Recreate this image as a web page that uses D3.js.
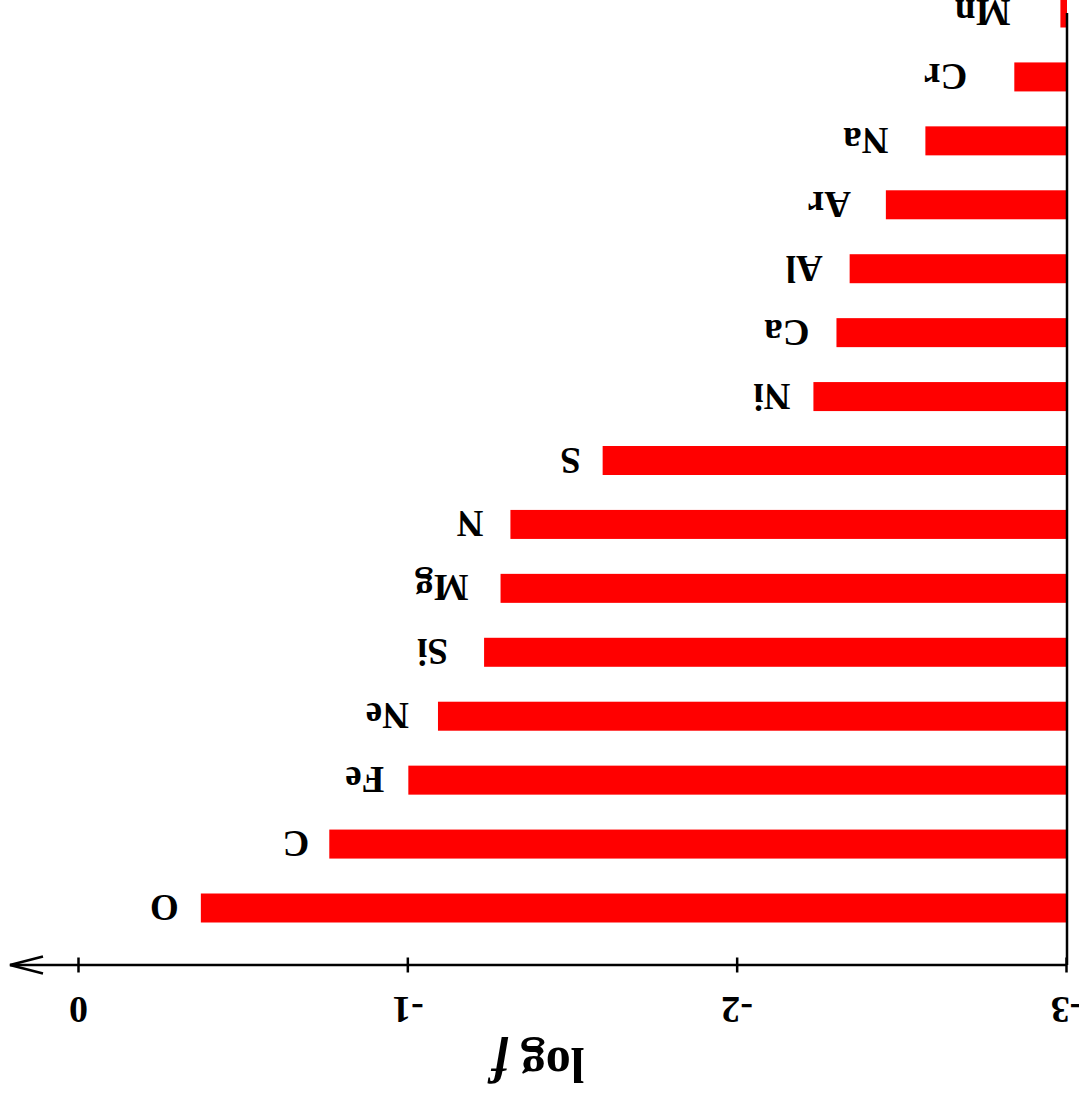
<!DOCTYPE html>
<html>
<head>
<meta charset="utf-8">
<script src="https://cdn.jsdelivr.net/npm/d3@7"></script>
<style>
  html, body { margin: 0; padding: 0; background: #fff; }
  svg { display: block; }
  text { font-family: "Liberation Serif", "Times New Roman", serif; font-weight: bold; fill: #000; }
</style>
</head>
<body>
<script>
// Element abundances, log f
const elements = ["O", "C", "Fe", "Ne", "Si", "Mg", "N", "S", "Ni", "Ca", "Al", "Ar", "Na", "Cr", "Mn"];
const logF     = [-0.37, -0.76, -1.00, -1.09, -1.23, -1.28, -1.31, -1.59, -2.23, -2.30, -2.34, -2.45, -2.57, -2.84, -2.98];
const tickValues = [0, -1, -2, -3];
const tickLabels = ["0", "-1", "-2", "-3"];

const W = 1079, H = 1104;
const axisY = 139;

// space between a bar's end and its element label
const labelGap = { O: 22, C: 20, Fe: 24, Ne: 29, Si: 36, Mg: 32, N: 27, S: 22,
                   Ni: 23, Ca: 27, Al: 27, Ar: 35, Na: 37, Cr: 47, Mn: 50 };

const svg = d3.select("body").append("svg")
  .attr("width", W).attr("height", H);

// the whole figure is drawn turned half a revolution
const g = svg.append("g")
  .attr("transform", `rotate(180, ${W / 2}, ${H / 2})`);

const x = d3.scaleLinear().domain([-3, 0]).range([12, 1000]);
const y = d3.scalePoint().domain(elements).range([196, 1091]);
const barH = 29;

const rows = elements.map((e, i) => ({ e, v: logF[i] }));

// bars
g.selectAll("rect.bar")
  .data(rows)
  .join("rect")
  .attr("class", "bar")
  .attr("x", x(-3))
  .attr("y", d => y(d.e) - barH / 2)
  .attr("width", d => x(d.v) - x(-3))
  .attr("height", barH)
  .attr("fill", "#ff0000");

// element labels
g.selectAll("text.el")
  .data(rows)
  .join("text")
  .attr("class", "el")
  .attr("x", d => x(d.v) + labelGap[d.e])
  .attr("y", d => y(d.e))
  .attr("dy", "0.35em")
  .attr("font-size", 37)
  .text(d => d.e);

// vertical axis at log f = -3
g.append("line")
  .attr("x1", x(-3)).attr("x2", x(-3))
  .attr("y1", axisY).attr("y2", 1091)
  .attr("stroke", "#000").attr("stroke-width", 2.5);

// horizontal axis
const axis = d3.axisTop(x)
  .tickValues(tickValues)
  .tickFormat((d, i) => tickLabels[i])
  .tickSize(7.5);

const ax = g.append("g")
  .attr("transform", `translate(0, ${axisY})`)
  .call(axis);
ax.select(".domain").remove();
ax.selectAll(".tick line")
  .attr("y1", 7.5).attr("y2", -7.5)
  .attr("stroke", "#000").attr("stroke-width", 2.5);
ax.selectAll(".tick text")
  .attr("y", -32).attr("dy", 0)
  .attr("font-size", 38)
  .attr("font-family", "Liberation Serif, Times New Roman, serif")
  .attr("font-weight", "bold")
  .attr("fill", "#000");

const tipX = 1069;
g.append("line")
  .attr("x1", x(-3)).attr("x2", tipX)
  .attr("y1", axisY).attr("y2", axisY)
  .attr("stroke", "#000").attr("stroke-width", 2.5);
g.append("path")
  .attr("d", `M${tipX - 33},${axisY - 8.5} L${tipX},${axisY} L${tipX - 33},${axisY + 8.5}`)
  .attr("fill", "none").attr("stroke", "#000").attr("stroke-width", 2.5);

// axis title
const title = g.append("text")
  .attr("x", 541).attr("y", 56)
  .attr("text-anchor", "middle")
  .attr("font-size", 50);
title.append("tspan").text("log ");
title.append("tspan").attr("font-style", "italic").text("f");
</script>
</body>
</html>
